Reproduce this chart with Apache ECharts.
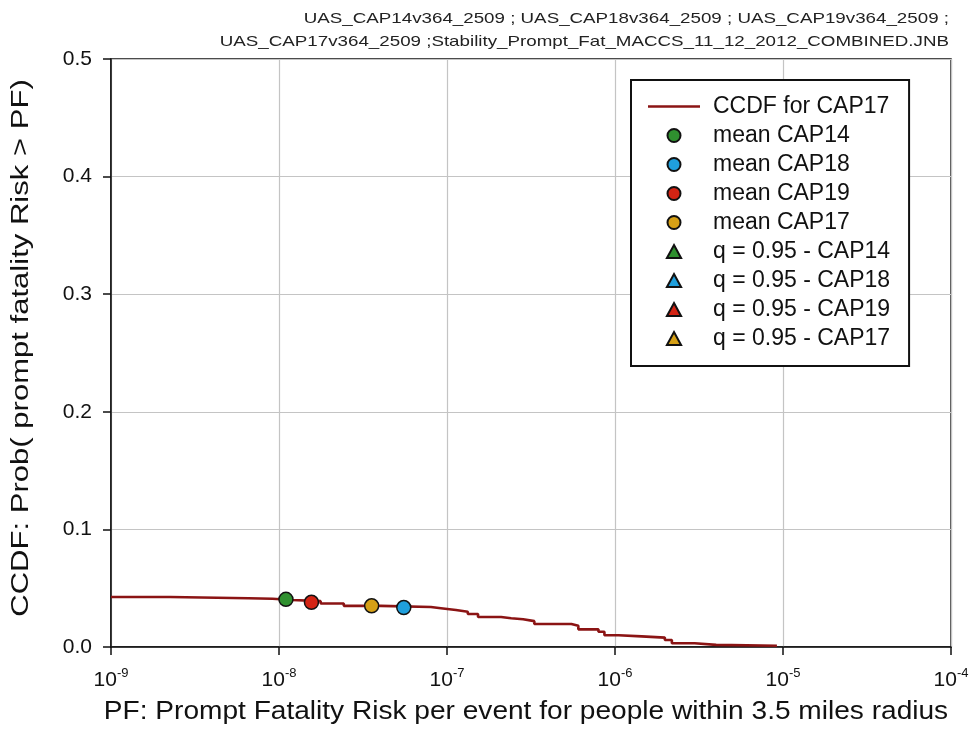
<!DOCTYPE html>
<html><head><meta charset="utf-8">
<script src="https://cdn.jsdelivr.net/npm/echarts@6/dist/echarts.min.js"></script>
<style>html,body{margin:0;padding:0;background:#fff}#c{width:975px;height:744px}</style>
</head><body><div id="c"></div>
<script>
const titleLines = ["UAS_CAP14v364_2509 ; UAS_CAP18v364_2509 ; UAS_CAP19v364_2509 ;",
                    "UAS_CAP17v364_2509 ;Stability_Prompt_Fat_MACCS_11_12_2012_COMBINED.JNB"];
const xAxisName = "PF: Prompt Fatality Risk per event for people within 3.5 miles radius";
const yAxisName = "CCDF: Prob( prompt fatality Risk > PF)";

// CCDF for CAP17 (step curve)
const ccdfPF   = [1.0e-9, 2.25e-9, 6.58e-9, 9.14e-9, 1.20e-8, 1.77e-8, 2.43e-8, 4.04e-8, 8.02e-8, 9.20e-8,
                  1.13e-7, 1.33e-7, 1.53e-7, 2.10e-7, 2.41e-7, 2.84e-7, 3.31e-7, 5.50e-7, 6.05e-7, 7.97e-7,
                  8.65e-7, 1.05e-6, 1.44e-6, 1.98e-6, 2.18e-6, 2.98e-6, 4.0e-6, 9.2e-6];
const ccdfProb = [0.0425, 0.0415, 0.0410, 0.0400, 0.0390, 0.0370, 0.0350, 0.0340, 0.0330, 0.0315,
                  0.0300, 0.0280, 0.0255, 0.0245, 0.0236, 0.0220, 0.0195, 0.0180, 0.0150, 0.0130,
                  0.0100, 0.0090, 0.0080, 0.0060, 0.0032, 0.0018, 0.0011, 0.0011];

// means
const meanNames = ["mean CAP14", "mean CAP18", "mean CAP19", "mean CAP17"];
const meanPF    = [1.10e-8, 5.53e-8, 1.56e-8, 3.56e-8];
const meanProb  = [0.0405, 0.0335, 0.0380, 0.0350];
// 95th percentiles (outside plotted range)
const qNames = ["q = 0.95 - CAP14", "q = 0.95 - CAP18", "q = 0.95 - CAP19", "q = 0.95 - CAP17"];
const colors = ["#2f902f", "#1f9fdc", "#d42414", "#d6a016"];

const xTicks = [1e-9, 1e-8, 1e-7, 1e-6, 1e-5, 1e-4];
const yTicks = [0.0, 0.1, 0.2, 0.3, 0.4, 0.5];

const FONT = "Liberation Sans";
const LINE_COLOR = "#8b1414";
const series = [{
  name: "CCDF for CAP17", type: "line", step: "end", symbol: "none", showSymbol: false,
  lineStyle: {color: LINE_COLOR, width: 2.6}, itemStyle: {color: LINE_COLOR},
  data: ccdfPF.map((v, i) => [v, ccdfProb[i]]), z: 2
}];
meanNames.forEach((n, i) => series.push({
  name: n, type: "scatter", symbol: "circle", symbolSize: 14,
  itemStyle: {color: colors[i], borderColor: "#111", borderWidth: 1.5, opacity: 1},
  data: [[meanPF[i], meanProb[i]]], z: 5
}));
qNames.forEach((n, i) => series.push({
  name: n, type: "scatter", symbol: "triangle", symbolSize: 13,
  itemStyle: {color: colors[i], borderColor: "#111", borderWidth: 1.5, opacity: 1},
  data: [], z: 5
}));

const legendData = series.map(s => {
  if (s.type === "line") return {name: s.name, icon: "path://M0,0L52,0L52,2.5L0,2.5Z"};
  if (s.symbol === "triangle") return {name: s.name, icon: "path://M6,0L12,11L0,11Z"};
  return {name: s.name, icon: "circle"};
});

const chart = echarts.init(document.getElementById("c"), null, {renderer: "canvas"});
chart.setOption({
  animation: false,
  backgroundColor: "#fff",
  textStyle: {fontFamily: FONT},
  graphic: [
    {type: "text", x: 949, y: 7, scaleX: 1.25, style: {text: titleLines.join("\n"), align: "right",
      font: "15px " + FONT, fill: "#222", lineHeight: 23}},
    {type: "text", x: 526, y: 712, scaleX: 1.08, style: {text: xAxisName, align: "center", verticalAlign: "middle",
      font: "26px " + FONT, fill: "#111"}},
    {type: "text", x: 22, y: 348, rotation: Math.PI / 2, scaleX: 1.35, style: {text: yAxisName, align: "center", verticalAlign: "middle",
      font: "23px " + FONT, fill: "#111"}}
  ],
  grid: {left: 111, right: 24, top: 59, bottom: 97, show: true, borderColor: "#111", borderWidth: 1.5, backgroundColor: "transparent"},
  legend: {
    orient: "vertical", left: 631, top: 80,
    padding: [15, 19, 16, 17], itemGap: 6, itemWidth: 52, itemHeight: 13,
    symbolKeepAspect: true,
    borderColor: "#111", borderWidth: 2, backgroundColor: "#fff",
    textStyle: {fontFamily: FONT, fontSize: 23, lineHeight: 23, color: "#111", padding: [0, 0, 0, 8]},
    data: legendData
  },
  xAxis: {
    type: "log", logBase: 10, min: xTicks[0], max: xTicks[xTicks.length - 1],
    axisLine: {lineStyle: {color: "#111", width: 1.5}},
    axisTick: {show: true, length: 8, lineStyle: {color: "#111", width: 1.5}},
    minorTick: {show: false},
    splitLine: {show: true, lineStyle: {color: "#c4c4c4", width: 1.2}},
    axisLabel: {
      margin: 20, color: "#111",
      formatter: v => "{b|10}{s|" + Math.round(Math.log10(v)) + "}",
      rich: {b: {fontSize: 21, fontFamily: FONT, color: "#111", verticalAlign: "bottom", lineHeight: 24},
             s: {fontSize: 13, fontFamily: FONT, color: "#111", verticalAlign: "top", lineHeight: 24, padding: [0, 0, 10, 0]}}
    }
  },
  yAxis: {
    type: "value", min: yTicks[0], max: yTicks[yTicks.length - 1], interval: 0.1,
    axisLine: {show: true, lineStyle: {color: "#111", width: 1.5}},
    axisTick: {show: true, length: 8, lineStyle: {color: "#111", width: 1.5}},
    splitLine: {show: true, lineStyle: {color: "#c4c4c4", width: 1.2}},
    axisLabel: {margin: 19, fontSize: 21, color: "#111", fontFamily: FONT, formatter: v => v.toFixed(1)}
  },
  series: series
});
</script></body></html>
